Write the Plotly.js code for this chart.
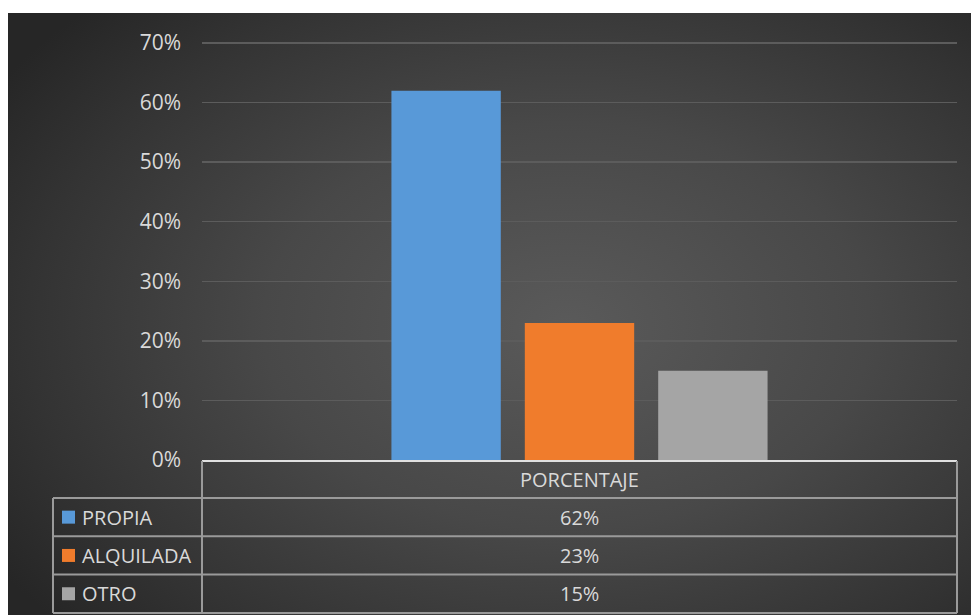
<!DOCTYPE html>
<html>
<head>
<meta charset="utf-8">
<script src="https://cdn.plot.ly/plotly-3.0.1.min.js"></script>
<style>
  html, body { margin: 0; padding: 0; background: #ffffff; }
  #wrap { position: relative; width: 971px; height: 615px; overflow: hidden; }
  #bg { position: absolute; left: 8px; top: 13px; width: 963px; height: 602px;
        background: radial-gradient(ellipse 70% 75% at 58% 52%, #5a5a5a 0%, #484848 45%, #333333 80%, #262626 100%); }
  #chart { position: absolute; left: 0; top: 0; width: 971px; height: 615px; }
</style>
</head>
<body>
<div id="wrap"><div id="bg"></div><div id="chart"></div></div>
<script>
// ---- data ----
const category = "PORCENTAJE";
const seriesNames = ["PROPIA", "ALQUILADA", "OTRO"];
const seriesValues = [0.62, 0.23, 0.15];
const seriesColors = ["#5899d8", "#f07c2c", "#a5a5a5"];
const tickVals = [0, 0.1, 0.2, 0.3, 0.4, 0.5, 0.6, 0.7];

// ---- geometry helpers (pixel -> paper) ----
const W = 971, H = 615;
const mL = 202, mR = 14, mT = 40, mB = 155;
const plotW = W - mL - mR, plotH = H - mT - mB;
const px = x => (x - mL) / plotW;
const py = y => (H - mB - y) / plotH;

const textColor = "#d9d9d9";
const fontFam = "'Open Sans', 'Noto Sans', sans-serif";

const traces = seriesNames.map((name, i) => ({
  type: "bar",
  name: name,
  x: [category],
  y: [seriesValues[i]],
  marker: { color: seriesColors[i], line: { width: 0 } },
  hoverinfo: "none",
  showlegend: false
}));

// ---- data table (shapes + annotations) ----
const tableTop = 461, rowH = 38.3, headerBottom = 498;
const leftX = 53, splitX = 202, rightX = 957;
const lineCol = "#9a9a9a";
const shapes = [];
const annotations = [];
function hline(x0, x1, y, col, w) {
  shapes.push({ type: "line", xref: "paper", yref: "paper", x0: px(x0), x1: px(x1), y0: py(y), y1: py(y),
    line: { color: col || lineCol, width: w || 2 } });
}
function vline(x, y0, y1) {
  shapes.push({ type: "line", xref: "paper", yref: "paper", x0: px(x), x1: px(x), y0: py(y0), y1: py(y1),
    line: { color: lineCol, width: 2 } });
}
hline(splitX, rightX, tableTop, "#e0e0e0", 2);
const rowYs = [headerBottom];
for (let i = 0; i < seriesNames.length; i++) rowYs.push(headerBottom + rowH * (i + 1));
rowYs.forEach(y => hline(leftX, rightX, y));
vline(splitX, tableTop, rowYs[rowYs.length - 1]);
vline(rightX, tableTop, rowYs[rowYs.length - 1]);
vline(leftX, headerBottom, rowYs[rowYs.length - 1]);

const midX = (splitX + rightX) / 2;
annotations.push({ xref: "paper", yref: "paper", x: px(midX), y: py((tableTop + headerBottom) / 2),
  text: category, showarrow: false, xanchor: "center", yanchor: "middle",
  font: { family: fontFam, size: 20, color: textColor } });
seriesNames.forEach((name, i) => {
  const yc = (rowYs[i] + rowYs[i + 1]) / 2;
  annotations.push({ xref: "paper", yref: "paper", x: px(midX), y: py(yc),
    text: Math.round(seriesValues[i] * 100) + "%", showarrow: false, xanchor: "center", yanchor: "middle",
    font: { family: fontFam, size: 20, color: textColor } });
  annotations.push({ xref: "paper", yref: "paper", x: px(80), y: py(yc),
    text: name, showarrow: false, xanchor: "left", yanchor: "middle",
    font: { family: fontFam, size: 20, color: textColor } });
  shapes.push({ type: "rect", xref: "paper", yref: "paper",
    x0: px(62), x1: px(75), y0: py(yc - 6.5), y1: py(yc + 6.5),
    fillcolor: seriesColors[i], line: { width: 0 } });
});

const layout = {
  width: W, height: H,
  margin: { l: mL, r: mR, t: mT, b: mB, pad: 0 },
  paper_bgcolor: "rgba(0,0,0,0)",
  plot_bgcolor: "rgba(0,0,0,0)",
  barmode: "group",
  bargap: 0.47,
  bargroupgap: 0.18,
  showlegend: false,
  xaxis: { showticklabels: false, showgrid: false, zeroline: false, showline: false, fixedrange: true },
  yaxis: {
    range: [0, 0.705], tickvals: tickVals, tickformat: ".0%",
    showgrid: true, gridcolor: "#5c5c5c", gridwidth: 1.5,
    zeroline: false, showline: false, ticks: "",
    ticklabelstandoff: 20,
    tickfont: { family: fontFam, size: 21, color: textColor },
    fixedrange: true
  },
  shapes: shapes,
  annotations: annotations
};

Plotly.newPlot("chart", traces, layout, { displayModeBar: false, staticPlot: true });
</script>
</body>
</html>
